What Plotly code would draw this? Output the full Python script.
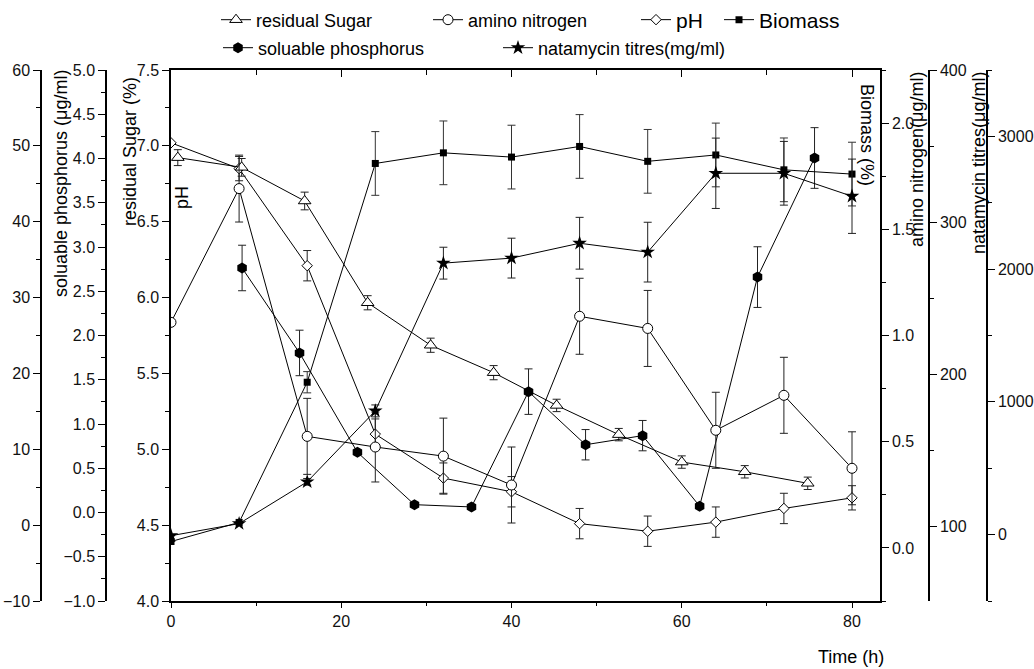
import plotly.graph_objects as go

# ---------------- data ----------------
time = [0, 8, 16, 24, 32, 40, 48, 56, 64, 72, 80]

sugar_time = [0.8, 8.3, 15.7, 23.1, 30.5, 37.9, 45.3, 52.6, 60.0, 67.4, 74.8]
sugar = [4.01, 3.90, 3.52, 2.37, 1.89, 1.58, 1.21, 0.88, 0.57, 0.46, 0.33]
sugar_err = [0.09, 0.1, 0.1, 0.08, 0.08, 0.08, 0.07, 0.07, 0.07, 0.07, 0.07]

ph = [7.02, 6.85, 6.21, 5.10, 4.81, 4.72, 4.51, 4.46, 4.52, 4.61, 4.68]
ph_err = [None, 0.08, 0.1, 0.1, 0.1, 0.1, 0.1, 0.1, 0.1, 0.1, 0.08]

amino = [234, 322, 159, 152, 146, 127, 238, 230, 163, 186, 138]
amino_err = [None, 22, 25, 23, 25, 25, 25, 25, 25, 25, 24]

biomass = [0.03, 0.12, 0.78, 1.81, 1.86, 1.84, 1.89, 1.82, 1.85, 1.78, 1.76]
biomass_err = [None, None, 0.05, 0.15, 0.15, 0.15, 0.15, 0.15, 0.15, 0.15, 0.15]

phos_time = [8.35, 15.1, 21.9, 28.6, 35.3, 42.0, 48.7, 55.4, 62.1, 68.9, 75.6]
phos = [33.9, 22.7, 9.6, 2.7, 2.4, 17.6, 10.6, 11.8, 2.5, 32.7, 48.4]
phos_err = [3, 3, None, None, None, 3, 2, 2, None, 4, 4]

nat = [-8, 83, 398, 932, 2045, 2083, 2195, 2128, 2722, 2722, 2549]
nat_err = [None, None, 25, 45, 120, 150, 195, 225, 265, 240, 280]

x_ticks = [0, 20, 40, 60, 80]

# ---------------- geometry helpers ----------------
W, H = 1034, 669
FONT = "Liberation Sans, Arial, sans-serif"


def px(x):
    return x / W


def py(y):
    return 1 - y / H


X0, X1 = 171, 880
Y0, Y1 = 70, 601
XMAX = (X1 - X0) / 8.5125

fig = go.Figure()


def err(arr, color="#222"):
    return dict(type="data", array=arr, visible=True, color=color,
                thickness=1, width=4)


line = dict(color="black", width=1)

fig.add_trace(go.Scatter(
    x=sugar_time, y=sugar, yaxis="y2", name="residual Sugar", legend="legend",
    mode="lines+markers", line=line,
    marker=dict(symbol="triangle-up", size=11, color="white",
                line=dict(color="black", width=1)),
    error_y=err(sugar_err)))

fig.add_trace(go.Scatter(
    x=time, y=amino, yaxis="y5", name="amino nitrogen", legend="legend2",
    mode="lines+markers", line=line,
    marker=dict(symbol="circle", size=10, color="white",
                line=dict(color="black", width=1)),
    error_y=err(amino_err)))

fig.add_trace(go.Scatter(
    x=time, y=ph, yaxis="y", name="pH", legend="legend3",
    mode="lines+markers", line=line,
    marker=dict(symbol="diamond", size=8, color="white",
                line=dict(color="black", width=1)),
    error_y=err(ph_err)))

fig.add_trace(go.Scatter(
    x=time, y=biomass, yaxis="y4", name="Biomass", legend="legend4",
    mode="lines+markers", line=line,
    marker=dict(symbol="square", size=7, color="black"),
    error_y=err(biomass_err, "#333")))

fig.add_trace(go.Scatter(
    x=phos_time, y=phos, yaxis="y3", name="soluable phosphorus", legend="legend5",
    mode="lines+markers", line=line,
    marker=dict(symbol="hexagon", size=11, color="black"),
    error_y=err(phos_err)))

fig.add_trace(go.Scatter(
    x=time, y=nat, yaxis="y6", name="natamycin titres(mg/ml)", legend="legend6",
    mode="lines+markers", line=line,
    marker=dict(symbol="star", size=11, color="black"),
    error_y=err(nat_err)))

# invisible trace to carry the top (mirror) axis
fig.add_trace(go.Scatter(x=[0], y=[5], xaxis="x2", yaxis="y", mode="markers",
                         marker=dict(opacity=0), showlegend=False,
                         hoverinfo="skip"))

ydom = [1 - Y1 / H, 1 - Y0 / H]
tickfont = dict(family=FONT, size=16, color="#111")
axcommon = dict(showgrid=False, zeroline=False, showline=True,
                linecolor="black", linewidth=1.5, ticks="outside",
                tickcolor="black", tickwidth=1.2, ticklen=7,
                tickfont=tickfont, automargin=False)

fig.update_layout(
    width=W, height=H, autosize=False,
    margin=dict(l=0, r=0, t=0, b=0, pad=0, autoexpand=False),
    paper_bgcolor="white", plot_bgcolor="white",
    font=dict(family=FONT, color="black"),
    xaxis=dict(domain=[px(X0), px(X1)], range=[0, XMAX], anchor="y",
               tickvals=x_ticks, ticklen=5,
               minor=dict(tickvals=[10, 30, 50, 70], ticklen=3,
                          ticks="outside", tickcolor="black"),
               **{k: v for k, v in axcommon.items() if k != "ticklen"}),
    xaxis2=dict(domain=[px(X0), px(X1)], range=[0, XMAX], overlaying="x",
                side="top", anchor="y", showgrid=False, zeroline=False,
                showline=True, linecolor="black", linewidth=1.5,
                ticks="inside", ticklen=7, tickcolor="black",
                tickvals=x_ticks, showticklabels=False, automargin=False,
                minor=dict(tickvals=[10, 30, 50, 70], ticklen=5,
                           ticks="inside", tickcolor="black")),
    yaxis=dict(domain=ydom, range=[4.0, 7.5], anchor="x", side="left",
               dtick=0.5, tick0=4.0, tickformat=".1f",
               minor=dict(dtick=0.25, ticklen=4, ticks="outside",
                          tickcolor="black"),
               **axcommon),
    yaxis2=dict(range=[-1.0, 5.0], overlaying="y", anchor="free",
                position=px(106), side="left", dtick=0.5, tick0=0,
                tickformat=".1f",
                minor=dict(dtick=0.25, ticklen=4, ticks="outside",
                           tickcolor="black"),
                **axcommon),
    yaxis3=dict(range=[-10, 60], overlaying="y", anchor="free",
                position=px(41), side="left", dtick=10, tick0=0,
                minor=dict(dtick=5, ticklen=4, ticks="outside",
                           tickcolor="black"),
                **axcommon),
    yaxis4=dict(range=[-0.25, 2.25], overlaying="y", anchor="x",
                side="right", tickvals=[0, 0.5, 1.0, 1.5, 2.0],
                tickformat=".1f",
                minor=dict(dtick=0.25, ticklen=4, ticks="outside",
                           tickcolor="black"),
                **axcommon),
    yaxis5=dict(range=[50.7, 400], overlaying="y", anchor="free",
                position=px(929), side="right", tickvals=[100, 200, 300, 400],
                minor=dict(dtick=50, ticklen=4, ticks="outside",
                           tickcolor="black"),
                **axcommon),
    yaxis6=dict(range=[-500, 3500], overlaying="y", anchor="free",
                position=px(987), side="right",
                tickvals=[0, 1000, 2000, 3000],
                minor=dict(dtick=500, ticklen=4, ticks="outside",
                           tickcolor="black"),
                **axcommon),
    showlegend=True,
)

# one legend per entry so the layout matches the two-row legend of the reference
legend_common = dict(orientation="h", xanchor="left", yanchor="middle",
                     bgcolor="rgba(0,0,0,0)", borderwidth=0)
leg_font = dict(family=FONT, size=18, color="black")
big_font = dict(family=FONT, size=21, color="black")
fig.update_layout(
    legend=dict(x=px(216), y=py(20), font=leg_font, **legend_common),
    legend2=dict(x=px(428), y=py(20), font=leg_font, **legend_common),
    legend3=dict(x=px(636), y=py(20), font=big_font, **legend_common),
    legend4=dict(x=px(719), y=py(20), font=big_font, **legend_common),
    legend5=dict(x=px(218), y=py(48), font=leg_font, **legend_common),
    legend6=dict(x=px(498), y=py(48), font=leg_font, **legend_common),
)

title_font = dict(family=FONT, size=18, color="black")
titles = [
    ("soluable phosphorus (μg/ml)", 61, 183, -90),
    ("residual Sugar (%)", 130, 152, -90),
    ("pH", 182, 198, -90),
    ("Biomass (%)", 867, 135, 90),
    ("amino nitrogen(μg/ml)", 917, 160, -90),
    ("natamycin titres(μg/ml)", 979, 163, -90),
    ("Time (h)", 851, 657, 0),
]
for text, x, y, ang in titles:
    fig.add_annotation(text=text, x=px(x), y=py(y), xref="paper",
                       yref="paper", showarrow=False, textangle=ang,
                       xanchor="center", yanchor="middle", font=title_font)

# the page's default 8px body margin would shift the figure; remove it
fig.write_html("out.html",
               config={"displayModeBar": False},
               post_script="document.body.style.margin='0';")
